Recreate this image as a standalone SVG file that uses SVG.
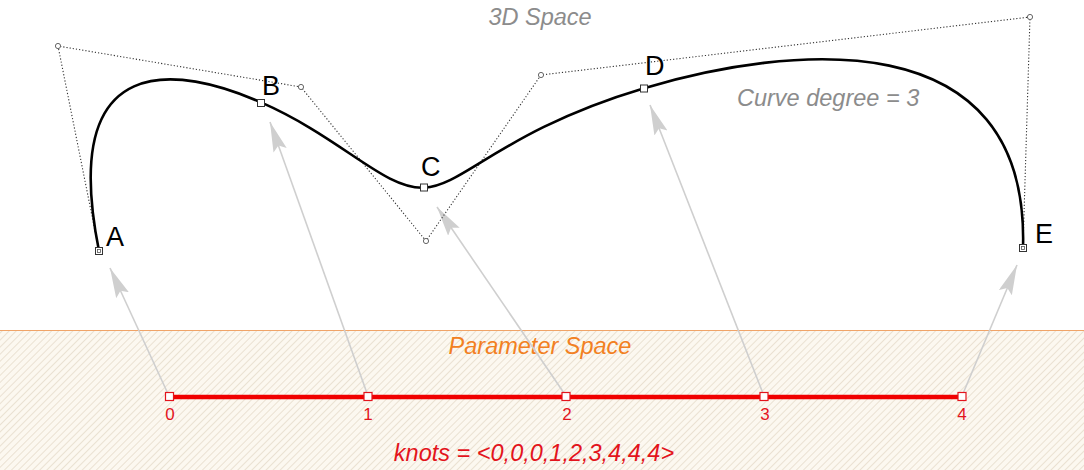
<svg xmlns="http://www.w3.org/2000/svg" width="1084" height="470" viewBox="0 0 1084 470">
<style>
.ital{font-family:"Liberation Sans",Arial,sans-serif;font-style:italic}
.lbl{font-family:"Liberation Sans",Arial,sans-serif;font-size:27px;fill:#000}
.num{font-family:"Liberation Sans",Arial,sans-serif;font-size:17px;fill:#e3141c;text-anchor:middle}
.poly{fill:none;stroke:#333;stroke-width:1.1;stroke-dasharray:1.2 2}
.cp{fill:#fff;stroke:#666;stroke-width:1}
.pt{fill:#fff;stroke:#333;stroke-width:1}
.knot{fill:#fff;stroke:#e3141c;stroke-width:1.2}
.map{fill:none;stroke:#cfcfcf;stroke-width:1.6;marker-end:url(#ah)}
</style>
<defs>
<pattern id="hatch" patternUnits="userSpaceOnUse" width="5" height="5" patternTransform="rotate(45)">
<rect width="5" height="5" fill="#fcf8f0"/>
<line x1="0" y1="0" x2="0" y2="5" stroke="#e3d8c5" stroke-width="1.4"/>
</pattern>
<marker id="ah" markerUnits="userSpaceOnUse" markerWidth="32" markerHeight="16" refX="30" refY="7" orient="auto">
<path d="M0,0 L30,7 L0,14 L5,7 Z" fill="#cfcfcf"/>
</marker>
</defs>
<rect x="0" y="0" width="1084" height="470" fill="#fff"/>
<g id="parameter-space">
<rect x="0" y="330" width="1084" height="140" fill="url(#hatch)"/>
<line x1="0" y1="330.5" x2="1084" y2="330.5" stroke="#f0a468" stroke-width="1"/>
</g>
<text class="ital" x="540" y="25" font-size="23.5" fill="#8c8c8c" text-anchor="middle">3D Space</text>
<text class="ital" x="737" y="106" font-size="23.5" fill="#8c8c8c">Curve degree = 3</text>
<text class="ital" x="540" y="354" font-size="23.5" fill="#f28022" text-anchor="middle">Parameter Space</text>
<text class="ital" x="534" y="461" font-size="23.5" fill="#e3141c" text-anchor="middle">knots = &lt;0,0,0,1,2,3,4,4,4&gt;</text>
<g id="connectors">
<line class="map" x1="169" y1="396" x2="110" y2="268"/>
<line class="map" x1="368" y1="396" x2="270" y2="122"/>
<line class="map" x1="566" y1="396" x2="437" y2="207"/>
<line class="map" x1="764" y1="396" x2="650" y2="105"/>
<line class="map" x1="962" y1="396" x2="1017" y2="265"/>
</g>
<g id="control-polygon">
<polyline class="poly" points="99,251 58,46 301,87 426,241 541,75 1030,17 1023,248"/>
<circle class="cp" cx="58" cy="46" r="2.6"/>
<circle class="cp" cx="301" cy="87" r="2.6"/>
<circle class="cp" cx="426" cy="241" r="2.6"/>
<circle class="cp" cx="541" cy="75" r="2.6"/>
<circle class="cp" cx="1030" cy="17" r="2.6"/>
</g>
<g id="curve">
<path d="M99,251 C58,46 179.5,66.5 261.08,102.42 C342.67,138.33 384.33,189.67 424.33,187.67 C464.33,185.67 502.67,130.33 644.08,88.17 C785.5,46 1030,17 1023,248" fill="none" stroke="#000" stroke-width="2.6"/>
</g>
<g id="node-A">
<rect class="pt" x="95.5" y="247.5" width="7" height="7"/>
<rect x="97.5" y="249.5" width="3" height="3" fill="none" stroke="#555" stroke-width="0.8"/>
<text class="lbl" x="106" y="246">A</text>
</g>
<g id="node-B">
<rect class="pt" x="257.5" y="99.5" width="7" height="7"/>
<text class="lbl" x="262" y="95">B</text>
</g>
<g id="node-C">
<rect class="pt" x="420.5" y="184" width="7" height="7"/>
<text class="lbl" x="421" y="176">C</text>
</g>
<g id="node-D">
<rect class="pt" x="640.5" y="85" width="7" height="7"/>
<text class="lbl" x="645" y="75">D</text>
</g>
<g id="node-E">
<rect class="pt" x="1019.5" y="244.5" width="7" height="7"/>
<rect x="1021.5" y="246.5" width="3" height="3" fill="none" stroke="#555" stroke-width="0.8"/>
<text class="lbl" x="1035" y="243">E</text>
</g>
<g id="knot-line">
<line x1="170" y1="397" x2="962" y2="397" stroke="#f00000" stroke-width="4.5"/>
<rect class="knot" x="165.5" y="392.5" width="8" height="8"/>
<rect class="knot" x="364" y="392.5" width="8" height="8"/>
<rect class="knot" x="562" y="392.5" width="8" height="8"/>
<rect class="knot" x="760" y="392.5" width="8" height="8"/>
<rect class="knot" x="958" y="392.5" width="8" height="8"/>
<text class="num" x="170" y="420">0</text>
<text class="num" x="368" y="420">1</text>
<text class="num" x="567" y="420">2</text>
<text class="num" x="765" y="420">3</text>
<text class="num" x="962" y="420">4</text>
</g>
</svg>
